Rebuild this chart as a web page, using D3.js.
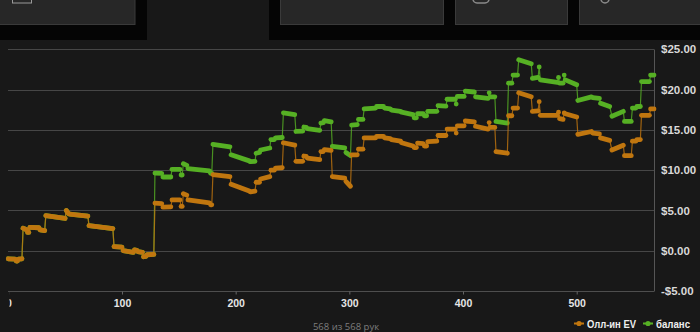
<!DOCTYPE html>
<html>
<head>
<meta charset="utf-8">
<script src="https://cdn.jsdelivr.net/npm/d3@7"></script>
<style>
  html, body { margin: 0; padding: 0; background: #181818; overflow: hidden; }
  svg { display: block; font-family: "Liberation Sans", Arial, sans-serif; }
</style>
</head>
<body>
<div id="graph"></div>
<script>
// runs of hands: [first hand, last hand, $ at first, $ at last]
const evRuns = [
  [0, 6, -1.0, -1.05], [7, 8, -1.28, -1.28], [9, 12, -1.05, -1.0],
  [13, 16, 2.8, 2.6], [17, 18, 2.27, 2.27], [19, 27, 2.9, 2.85], [28, 32, 2.6, 2.5],
  [33, 50, 4.35, 4.0], [51, 53, 5.0, 4.6], [54, 70, 4.55, 4.3],
  [71, 92, 3.1, 2.75], [93, 100, 0.5, 0.45], [101, 110, 0.0, -0.2], [111, 113, 0.1, 0.05],
  [114, 118, -0.1, -0.2], [119, 121, -0.75, -0.7], [122, 128, -0.5, -0.45],
  [129, 135, 5.9, 5.85], [136, 143, 5.4, 5.45], [144, 151, 6.3, 6.3], [152, 153, 5.5, 5.5],
  [154, 157, 7.07, 6.9], [158, 177, 6.3, 5.95], [178, 179, 5.7, 5.7],
  [180, 195, 9.45, 9.2], [196, 212, 8.25, 7.4], [213, 217, 7.3, 7.4], [218, 221, 8.5, 8.5],
  [222, 230, 8.9, 9.2], [231, 234, 10.0, 10.0], [235, 241, 10.25, 10.3],
  [242, 252, 13.4, 13.1], [253, 259, 11.1, 11.1], [260, 262, 11.75, 11.7], [263, 274, 11.5, 11.3],
  [275, 277, 12.3, 12.3], [278, 284, 12.55, 12.45], [285, 296, 9.2, 9.0], [297, 301, 8.6, 8.0],
  [302, 307, 11.9, 11.9], [308, 312, 12.6, 12.6], [313, 323, 14.0, 14.0], [324, 330, 14.2, 14.2],
  [331, 336, 14.0, 13.9], [337, 345, 13.8, 13.6], [346, 356, 13.4, 13.0], [357, 359, 12.8, 12.8],
  [360, 365, 13.35, 13.3], [366, 368, 13.0, 13.0], [369, 377, 13.55, 13.6], [378, 385, 14.3, 14.3],
  [386, 393, 15.1, 15.1], [394, 394, 14.6, 14.6], [395, 401, 15.5, 15.5], [402, 410, 16.1, 16.0],
  [411, 422, 15.45, 15.1], [423, 423, 15.9, 15.9], [424, 428, 15.3, 15.3],
  [429, 439, 12.3, 12.1], [440, 443, 16.75, 16.75], [444, 448, 17.7, 17.7], [449, 460, 19.6, 19.1],
  [461, 466, 17.3, 17.35], [467, 467, 18.5, 18.5], [468, 483, 16.8, 16.8], [484, 484, 17.2, 17.2],
  [485, 488, 16.4, 16.3], [489, 489, 17.1, 17.1], [490, 500, 17.0, 16.6],
  [501, 513, 14.45, 14.8], [514, 520, 14.6, 14.5], [521, 529, 14.0, 13.7], [531, 541, 12.5, 13.1],
  [542, 548, 11.8, 11.8], [549, 552, 13.6, 13.6], [553, 556, 13.8, 13.8],
  [557, 564, 16.8, 16.8], [565, 568, 17.6, 17.6],
];

const balanceRuns = [
  [0, 6, -1.0, -1.05], [7, 8, -1.28, -1.28], [9, 12, -1.05, -1.0],
  [13, 16, 2.8, 2.6], [17, 18, 2.27, 2.27], [19, 27, 2.9, 2.85], [28, 32, 2.6, 2.5],
  [33, 50, 4.35, 4.0], [51, 53, 5.0, 4.6], [54, 70, 4.55, 4.3],
  [71, 92, 3.1, 2.75], [93, 100, 0.5, 0.45], [101, 110, 0.0, -0.2], [111, 113, 0.1, 0.05],
  [114, 118, -0.1, -0.2], [119, 121, -0.75, -0.7], [122, 128, -0.5, -0.45],
  [129, 135, 9.64, 9.6], [136, 143, 9.15, 9.15], [144, 151, 10.1, 10.1], [152, 153, 9.4, 9.4],
  [154, 157, 10.8, 10.6], [158, 177, 10.2, 9.9], [178, 179, 9.6, 9.6],
  [180, 195, 13.2, 12.9], [196, 212, 11.9, 11.15], [213, 217, 11.05, 11.1], [218, 221, 12.1, 12.2],
  [222, 230, 12.5, 12.75], [231, 234, 13.8, 13.8], [235, 241, 14.0, 14.05],
  [242, 252, 17.1, 16.9], [253, 259, 14.8, 14.85], [260, 262, 15.35, 15.3], [263, 274, 15.15, 14.95],
  [275, 277, 15.85, 15.9], [278, 284, 16.15, 16.0], [285, 296, 12.95, 12.75], [297, 301, 12.2, 11.8],
  [302, 307, 15.6, 15.65], [308, 312, 16.3, 16.3], [313, 323, 17.6, 17.7], [324, 330, 17.9, 17.9],
  [331, 336, 17.7, 17.6], [337, 345, 17.45, 17.3], [346, 356, 17.2, 16.9], [357, 359, 16.5, 16.5],
  [360, 365, 17.0, 17.0], [366, 368, 16.75, 16.75], [369, 377, 17.3, 17.3], [378, 385, 18.0, 17.95],
  [386, 393, 18.8, 18.8], [394, 394, 18.2, 18.2], [395, 401, 19.15, 19.15], [402, 410, 19.8, 19.7],
  [411, 422, 19.1, 18.9], [423, 423, 19.6, 19.6], [424, 428, 19.1, 19.1],
  [429, 439, 16.05, 15.85], [440, 443, 20.8, 20.8], [444, 448, 21.8, 21.8], [449, 460, 23.7, 23.2],
  [461, 466, 21.4, 21.5], [467, 467, 22.8, 22.8], [468, 483, 21.2, 20.9], [484, 484, 21.5, 21.5],
  [485, 488, 20.8, 20.8], [489, 489, 21.8, 21.8], [490, 500, 21.2, 20.6],
  [501, 513, 18.65, 19.1], [514, 520, 19.0, 18.9], [521, 529, 18.3, 17.9], [531, 541, 16.7, 17.3],
  [542, 548, 16.05, 16.05], [549, 552, 17.7, 17.7], [553, 556, 17.9, 17.9],
  [557, 564, 21.0, 21.0], [565, 568, 21.8, 21.8],
];

const yTicks = [-5, 0, 5, 10, 15, 20, 25];
const xTicks = [0, 100, 200, 300, 400, 500];
const handsShown = 568;
const handsTotal = 568;
const seriesNames = ['Олл-ин EV', 'баланс'];

const colors = { ev: '#c0760f', balance: '#56b024' };
const width = 700;
const height = 332;
const plot = { left: 8.3, right: 654, top: 49.3, bottom: 291 };

const svg = d3.select('#graph').append('svg')
  .attr('width', width)
  .attr('height', height);

svg.append('rect').attr('width', width).attr('height', height).attr('fill', '#181818');

// toolbar remnants at the top
const bar = svg.append('g').attr('class', 'toolbar');
bar.append('rect').attr('x', 0).attr('y', 0).attr('width', 147).attr('height', 40).attr('fill', '#050505');
bar.append('rect').attr('x', 269).attr('y', 0).attr('width', 431).attr('height', 40).attr('fill', '#050505');
[[-1, 136], [280.5, 163], [455.5, 112], [579.5, 130]].forEach(([bx, bw]) => {
  bar.append('rect')
    .attr('x', bx).attr('y', -1).attr('width', bw).attr('height', 25.5)
    .attr('fill', '#272727').attr('stroke', '#3a3a3a');
});
bar.append('rect').attr('x', 12.5).attr('y', -6).attr('width', 19).attr('height', 9)
  .attr('fill', 'none').attr('stroke', '#9a9a9a');
bar.append('rect').attr('x', 473).attr('y', -6).attr('width', 16).attr('height', 9).attr('rx', 4)
  .attr('fill', 'none').attr('stroke', '#8a8a8a').attr('stroke-width', 1.5);
bar.append('circle').attr('cx', 605).attr('cy', -1).attr('r', 4)
  .attr('fill', 'none').attr('stroke', '#8a8a8a').attr('stroke-width', 1.5);

const x = d3.scaleLinear().domain([0, handsTotal]).range([plot.left, plot.right]);
const y = d3.scaleLinear().domain([-5, 25]).range([plot.bottom, plot.top]);

// grid
svg.append('g').attr('class', 'grid')
  .selectAll('line')
  .data(yTicks)
  .join('line')
  .attr('x1', 8)
  .attr('x2', plot.right)
  .attr('y1', (d) => Math.round(y(d)) + 0.5)
  .attr('y2', (d) => Math.round(y(d)) + 0.5)
  .attr('stroke', (d) => (d === -5 ? '#4e4e4e' : '#464646'));

svg.append('line')
  .attr('x1', plot.right + 0.5).attr('x2', plot.right + 0.5)
  .attr('y1', Math.round(y(25)) + 0.5).attr('y2', Math.round(y(-5)) + 0.5)
  .attr('stroke', '#555');

// right axis labels
const yAxis = svg.append('g')
  .attr('transform', `translate(${plot.right},0)`)
  .call(d3.axisRight(y).tickValues(yTicks).tickSize(0).tickPadding(7)
    .tickFormat((d) => (d < 0 ? '-$' + Math.abs(d).toFixed(2) : '$' + d.toFixed(2))));
yAxis.select('.domain').remove();
yAxis.selectAll('text')
  .attr('fill', '#d8d8d8')
  .attr('font-size', 11.5)
  .attr('font-weight', 'bold');

// bottom axis, the first label is cut by the left edge of the plot
svg.append('clipPath').attr('id', 'xclip')
  .append('rect').attr('x', 9.5).attr('y', 285).attr('width', 660).attr('height', 30);
const xAxis = svg.append('g')
  .attr('clip-path', 'url(#xclip)')
  .append('g')
  .attr('transform', `translate(0,${Math.round(y(-5)) + 0.5})`)
  .call(d3.axisBottom(x).tickValues(xTicks).tickSize(3).tickPadding(5).tickFormat(d3.format('d')));
xAxis.select('.domain').remove();
xAxis.selectAll('line').attr('stroke', '#666');
xAxis.selectAll('text')
  .attr('fill', '#e6e6e6')
  .attr('font-size', 10.5)
  .attr('font-weight', 'bold');

// one series: thin connectors between hands plus a thick band per run
function drawSeries(runs, color) {
  const g = svg.append('g').attr('class', 'series');
  const pts = [];
  runs.forEach((r) => {
    pts.push([r[0], r[2]]);
    pts.push([r[1], r[3]]);
  });
  g.append('path')
    .attr('d', d3.line().x((d) => x(d[0])).y((d) => y(d[1]))(pts))
    .attr('fill', 'none')
    .attr('stroke', color)
    .attr('stroke-opacity', 0.8)
    .attr('stroke-width', 1.2);
  g.selectAll('line')
    .data(runs)
    .join('line')
    .attr('x1', (d) => x(d[0]))
    .attr('x2', (d) => x(d[1]))
    .attr('y1', (d) => y(d[2]))
    .attr('y2', (d) => y(d[3]))
    .attr('stroke', color)
    .attr('stroke-width', 4.8)
    .attr('stroke-linecap', 'round');
}

drawSeries(balanceRuns, colors.balance);
drawSeries(evRuns, colors.ev);

// footer
svg.append('text')
  .attr('x', 346)
  .attr('y', 329.5)
  .attr('text-anchor', 'middle')
  .attr('fill', '#7d7d7d')
  .attr('font-size', 9.5)
  .attr('font-family', '"Open Sans", sans-serif')
  .text(`${handsShown} из ${handsTotal} рук`);

// legend
const legend = svg.append('g').attr('class', 'legend');
const legendItems = [
  { name: seriesNames[0], color: colors.ev, x: 574, w: 49 },
  { name: seriesNames[1], color: colors.balance, x: 643, w: 34 },
];
legendItems.forEach((it) => {
  const item = legend.append('g').attr('transform', `translate(${it.x},323.5)`);
  item.append('line').attr('x1', 0).attr('x2', 10).attr('stroke', it.color).attr('stroke-width', 2);
  item.append('circle').attr('cx', 5).attr('r', 2.6).attr('fill', it.color);
  item.append('text')
    .attr('x', 13)
    .attr('y', 4)
    .attr('fill', '#efefef')
    .attr('font-size', 11)
    .attr('font-weight', 'bold')
    .attr('textLength', it.w)
    .attr('lengthAdjust', 'spacingAndGlyphs')
    .text(it.name);
});
</script>
</body>
</html>
